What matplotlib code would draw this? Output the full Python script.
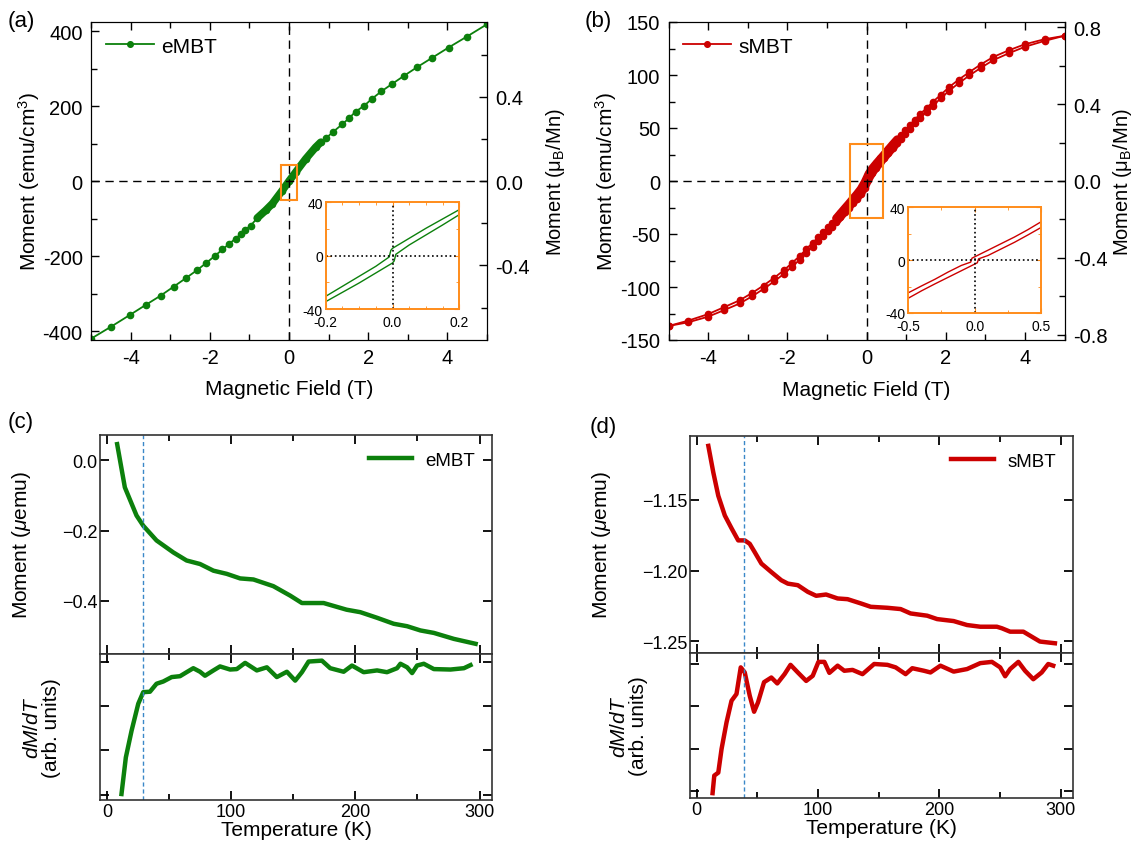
import numpy as np
import matplotlib
matplotlib.use('Agg')
import matplotlib.pyplot as plt
from matplotlib.ticker import MultipleLocator, FuncFormatter, NullFormatter
from matplotlib.patches import Rectangle

plt.rcParams['font.family'] = ['Liberation Sans', 'DejaVu Sans']
plt.rcParams['mathtext.fontset'] = 'custom'
plt.rcParams['mathtext.rm'] = 'Liberation Sans'
plt.rcParams['mathtext.it'] = 'Liberation Sans:italic'
plt.rcParams['mathtext.bf'] = 'Liberation Sans:bold'
plt.rcParams['axes.unicode_minus'] = True

# ---- (a) eMBT  M-H loop
a_field = [-5.0, -4.49, -4.02, -3.62, -3.24, -2.91, -2.61, -2.32, -2.09, -1.88,
           -1.68, -1.52, -1.35, -1.2, -1.1, -0.97, -0.8, -0.59, -0.42, -0.17,
           0.0, 0.17, 0.42, 0.67, 0.8, 0.93, 1.1, 1.35, 1.52, 1.68,
           1.9, 2.09, 2.33, 2.59, 2.91, 3.24, 3.62, 4.03, 4.49, 5.0]
a_moment = [-420, -387.6, -356.7, -330, -305, -281, -259, -237, -218, -200,
            -182, -168, -153, -140, -129, -119, -98, -78, -60, -25,
            0, 24, 59, 90, 103.5, 114, 130, 152, 168, 185,
            201, 219, 239, 258, 281, 304, 329, 356, 385, 418]
# inset (a): two branches
a_in_field_dn = [0.2, 0.15, 0.1, 0.05, 0.0, -0.005, -0.01, -0.05, -0.1, -0.15, -0.2]
a_in_mom_dn = [34.5, 27.5, 20.5, 13, 5.5, 4, -1, -8, -15.5, -23, -30.5]
a_in_field_up = [-0.2, -0.15, -0.1, -0.05, 0.0, 0.005, 0.01, 0.05, 0.1, 0.15, 0.2]
a_in_mom_up = [-34.5, -27.5, -20.5, -13, -5.5, -4, 1, 8, 15.5, 23, 30.75]

# ---- (b) sMBT  M-H loop
b_field = [-5.0, -4.5, -4.0, -3.6, -3.2, -2.88, -2.6, -2.33, -2.09, -1.88,
           -1.68, -1.52, -1.36, -1.22, -1.09, -0.98, -0.87, -0.77, -0.66, -0.55,
           -0.45, -0.35, -0.25, -0.15, -0.05, 0.05, 0.15, 0.25, 0.35, 0.45,
           0.55, 0.66, 0.77, 0.87, 0.98, 1.09, 1.22, 1.36, 1.52, 1.68,
           1.88, 2.09, 2.33, 2.6, 2.88, 3.2, 3.6, 4.0, 4.5, 5.0]
b_mom_dn = [-136.8, -131.7, -125.6, -119.1, -112.5, -105.4, -98.6, -91.3, -84.3, -77.3,
            -70.5, -64.2, -58.2, -53.2, -48.0, -43.6, -39.4, -35.1, -30.3, -25.5,
            -21.2, -16.7, -12.3, -7.5, -1.0, 7.0, 12.5, 17.0, 21.3, 25.6,
            30.0, 34.8, 39.4, 43.7, 48.1, 52.8, 58.0, 63.3, 69.0, 74.8,
            81.5, 88.7, 95.7, 102.8, 109.8, 117.0, 123.4, 129.0, 133.8, 137.0]
b_mom_up = [-136.8, -133.3, -128.0, -121.9, -115.5, -108.6, -101.8, -94.7, -87.7, -80.7,
            -74.1, -67.8, -61.8, -56.8, -51.6, -47.4, -43.2, -38.9, -34.3, -29.5,
            -25.2, -20.9, -16.7, -12.5, -7.0, 1.0, 7.5, 12.6, 17.1, 21.6,
            26.0, 30.8, 35.6, 39.9, 44.3, 49.2, 54.4, 59.7, 65.4, 71.2,
            78.1, 85.3, 92.3, 99.6, 106.6, 114.0, 120.6, 126.6, 132.2, 137.0]
b_in_field_dn = [0.5, 0.4, 0.3, 0.2, 0.1, 0.0, -0.02, -0.03, -0.1, -0.2, -0.3, -0.4, -0.5]
b_in_mom_dn = [29, 23, 17.5, 12.5, 7.5, 2.5, 1.5, -1.5, -4, -9, -14.5, -19.5, -24.7]
b_in_field_up = [-0.5, -0.4, -0.3, -0.2, -0.1, 0.0, 0.02, 0.03, 0.1, 0.2, 0.3, 0.4, 0.5]
b_in_mom_up = [-28.8, -23.2, -18, -13, -8, -3, -2, 1, 3.5, 8.5, 13.5, 19, 24.7]

# ---- (c) eMBT  M-T
c_temp = [8.3, 14.5, 23.9, 29.3, 40, 53.5, 64.2, 75, 85.8, 96.5, 107.3, 118, 134,
          147.6, 157, 174.5, 193, 204, 217.5, 230.9, 241.7, 252.4, 263.2, 279.3, 296.8]
c_moment = [0.046, -0.077, -0.157, -0.186, -0.228, -0.262, -0.285, -0.295, -0.314,
            -0.323, -0.336, -0.339, -0.358, -0.385, -0.406, -0.406, -0.425, -0.432,
            -0.448, -0.465, -0.472, -0.484, -0.491, -0.508, -0.522]
c_temp_d = [11.8, 15.3, 19.9, 25.3, 29.3, 34.7, 40, 45.4, 52.2, 58.9, 64.2, 69.6, 75,
            79, 85.8, 91.1, 99.2, 104.6, 111.3, 120.7, 128.8, 136.8, 144.9, 151.6, 157,
            162.4, 173.1, 179.8, 190.6, 197.3, 206.7, 217.5, 225.5, 233.6, 236.3, 241.7,
            245.7, 249.7, 255.1, 263.2, 276.6, 287.4, 292.7]
c_deriv = [0.015, 0.84, 1.44, 2.05, 2.31, 2.32, 2.50, 2.55, 2.65, 2.67, 2.76, 2.85, 2.77,
           2.68, 2.80, 2.89, 2.82, 2.83, 2.97, 2.80, 2.87, 2.65, 2.77, 2.57, 2.76,
           3.0, 3.02, 2.85, 2.77, 2.91, 2.76, 2.80, 2.76, 2.85, 2.95, 2.87,
           2.74, 2.91, 2.95, 2.83, 2.82, 2.85, 2.92]
c_tc = 29

# ---- (d) sMBT  M-T
d_temp = [9.6, 13.7, 17.8, 23.2, 28.7, 34.2, 39.6, 43.7, 47.8, 53.3, 61.5, 69.7, 75.1,
          83.3, 91.5, 98.4, 106.6, 116.1, 124.3, 135.2, 143.4, 157.1, 168, 176.2, 189.9,
          198.1, 211.7, 222.7, 233.6, 247.3, 251.4, 258.2, 269.1, 277.3, 282.8, 295.1]
d_moment = [-1.1117, -1.1305, -1.147, -1.161, -1.170, -1.1786, -1.1786, -1.181, -1.1869,
            -1.195, -1.201, -1.2068, -1.2092, -1.2103, -1.215, -1.2178, -1.2169, -1.2197,
            -1.2202, -1.2232, -1.2256, -1.2263, -1.2272, -1.2303, -1.2319, -1.2343,
            -1.2357, -1.2385, -1.2397, -1.2397, -1.2408, -1.2432, -1.2432, -1.2474,
            -1.2502, -1.2514]
d_temp_d = [13.1, 14.5, 17.8, 20.5, 24.6, 28.7, 32.8, 36.3, 39.6, 43.7, 47.3, 50.5, 55.5,
            61.5, 66.4, 72.4, 77.3, 83.3, 90.2, 95.6, 100.3, 105.2, 109.3, 116.1, 121.6,
            128.4, 136.6, 146.2, 157.1, 163.9, 172.1, 177.6, 187.2, 192.6, 200.8, 211.7,
            222.7, 233.6, 243.2, 250, 254.1, 258.2, 265, 270.5, 277.3, 284.2, 289.6, 293.7]
d_deriv = [-0.055, 0.36, 0.43, 0.99, 1.62, 2.13, 2.29, 2.92, 2.80, 2.25, 1.87, 2.09, 2.57,
           2.68, 2.54, 2.76, 2.98, 2.80, 2.60, 2.72, 3.05, 3.05, 2.79, 2.96, 2.84,
           2.86, 2.76, 3.0, 2.98, 2.92, 2.76, 2.90, 2.84, 2.80, 2.96, 2.82,
           2.88, 3.02, 3.05, 2.92, 2.71, 2.88, 3.05, 2.84, 2.64, 2.80, 3.0, 2.96]
d_tc = 39

# unit conversion emu/cm3 -> muB/Mn
a_conv = 562.0
b_conv = 181.4

green = '#0c800c'
red = '#cc0000'
orange = '#ff8c1a'
blue = '#3a88c8'

W, H = 1135, 845
fig = plt.figure(figsize=(W / 100, H / 100), dpi=100)


def px_axes(l, t, r, b, **kw):
    return fig.add_axes([l / W, 1 - b / H, (r - l) / W, (b - t) / H], **kw)


hyph = FuncFormatter(lambda v, p: f'{v:g}')
hyph1 = FuncFormatter(lambda v, p: f'{v:.1f}')


def mh_panel(box, field, branches, color, label, ylim, ymaj, ymin, conv, rmaj,
             rect, inbox, in_branches, in_xlim, in_xmaj, in_xmin, in_xfmt):
    ax = px_axes(*box)
    for i, (f, m) in enumerate(branches):
        f = np.array(f)
        m = np.array(m)
        ax.plot(f, m, '-o', color=color, ms=4.5, lw=1.3, label=label if i == 0 else None)
        band = np.abs(f) <= 0.85
        ax.plot(f[band], m[band], '-', color=color, lw=5.5, solid_capstyle='round')
    ax.axhline(0, color='k', ls=(0, (6, 4)), lw=1)
    ax.axvline(0, color='k', ls=(0, (6, 4)), lw=1)
    ax.add_patch(Rectangle((rect[0], rect[1]), rect[2], rect[3], fill=False,
                           ec=orange, lw=1.5, zorder=5))
    ax.set_xlim(-5, 5)
    ax.set_ylim(*ylim)
    ax.xaxis.set_major_locator(MultipleLocator(2))
    ax.xaxis.set_minor_locator(MultipleLocator(1))
    ax.yaxis.set_major_locator(MultipleLocator(ymaj))
    ax.yaxis.set_minor_locator(MultipleLocator(ymin))
    ax.xaxis.set_major_formatter(hyph)
    ax.yaxis.set_major_formatter(hyph)
    ax.tick_params(which='both', direction='in', top=True, right=False,
                   labelsize=14.5, width=1)
    ax.tick_params(which='major', length=6, pad=6)
    ax.tick_params(which='minor', length=4)
    ax.set_xlabel('Magnetic Field (T)', fontsize=15)
    ax.xaxis.set_label_coords(0.5, -0.125)
    ax.set_ylabel('Moment (emu/cm$^3$)', fontsize=15)
    ax.legend(loc='upper left', frameon=False, fontsize=15, handlelength=2.3,
              handletextpad=0.35, borderaxespad=0.3, markerscale=0.9)

    ax2 = ax.twinx()
    ax2.set_ylim(ylim[0] / conv, ylim[1] / conv)
    ax2.yaxis.set_major_locator(MultipleLocator(rmaj))
    ax2.yaxis.set_minor_locator(MultipleLocator(rmaj / 2))
    ax2.yaxis.set_major_formatter(hyph1)
    ax2.tick_params(which='both', direction='in', labelsize=14.5, width=1)
    ax2.tick_params(which='major', length=6, pad=6)
    ax2.tick_params(which='minor', length=4)
    ax2.set_ylabel('Moment (μ$_\\mathrm{B}$/Mn)', fontsize=14.5)

    ins = px_axes(*inbox)
    for f, m in in_branches:
        ins.plot(f, m, '-', color=color, lw=1)
    ins.axhline(0, color='k', ls=':', lw=1.2)
    ins.axvline(0, color='k', ls=':', lw=1.2)
    ins.set_xlim(*in_xlim)
    ins.set_ylim(-40, 40)
    ins.xaxis.set_major_locator(MultipleLocator(in_xmaj))
    ins.xaxis.set_minor_locator(MultipleLocator(in_xmin))
    ins.yaxis.set_major_locator(MultipleLocator(40))
    ins.yaxis.set_minor_locator(MultipleLocator(20))
    ins.xaxis.set_major_formatter(in_xfmt)
    ins.yaxis.set_major_formatter(hyph)
    ins.tick_params(which='both', direction='in', top=True, right=True,
                    color=orange, labelsize=10)
    ins.tick_params(axis='x', pad=4)
    ins.tick_params(axis='y', pad=2)
    ins.tick_params(which='major', length=3.5)
    ins.tick_params(which='minor', length=2.5)
    for s in ins.spines.values():
        s.set_color(orange)
        s.set_linewidth(1.4)
    return ax, ax2


axa, axa2 = mh_panel((91, 23, 487, 340.5), a_field, [(a_field, a_moment)], green, 'eMBT',
                     (-422, 424), 200, 100, a_conv, 0.4, (-0.2, -50, 0.4, 94),
                     (325.7, 203.3, 459.3, 310),
                     [(a_in_field_dn, a_in_mom_dn), (a_in_field_up, a_in_mom_up)],
                     (-0.2, 0.2), 0.2, 0.05, hyph1)
axa.yaxis.set_label_coords(-0.125, 0.5)
axa2.yaxis.set_label_coords(1.145, 0.5)

axb, axb2 = mh_panel((668.5, 23, 1064.5, 341), b_field,
                     [(b_field, b_mom_dn), (b_field, b_mom_up)], red, 'sMBT',
                     (-150, 150), 50, 25, b_conv, 0.4, (-0.42, -34.5, 0.84, 69),
                     (908.3, 208.3, 1041, 314),
                     [(b_in_field_dn, b_in_mom_dn), (b_in_field_up, b_in_mom_up)],
                     (-0.5, 0.5), 0.5, 0.25, hyph1)
axb.yaxis.set_label_coords(-0.125, 0.5)
axb2.yaxis.set_label_coords(1.118, 0.5)


def mt_panel(top_box, bot_box, temp, mom, temp_d, deriv, color, label, tc,
             ylim, ymaj, ylim_d, lab_x, lab_x_d):
    ax1 = px_axes(*top_box)
    ax2 = px_axes(*bot_box, sharex=ax1)
    ax1.plot(temp, mom, color=color, lw=3.2, label=label)
    ax2.plot(temp_d, deriv, color=color, lw=3.2)
    for ax in (ax1, ax2):
        ax.axvline(tc, color=blue, ls=(0, (3, 2)), lw=1)
        ax.tick_params(which='both', direction='in', top=True, right=True,
                       labelsize=13, width=1.3, pad=2)
        ax.tick_params(which='major', length=6.5)
        ax.tick_params(which='minor', length=4.5)
        for s in ax.spines.values():
            s.set_color('#333333')
            s.set_linewidth(1.2)
    ax1.set_xlim(-5.5, 310)
    ax1.xaxis.set_major_locator(MultipleLocator(100))
    ax1.xaxis.set_minor_locator(MultipleLocator(50))
    ax1.set_ylim(*ylim)
    ax1.yaxis.set_major_locator(MultipleLocator(ymaj))
    ax1.tick_params(axis='x', labelbottom=False)
    ax2.set_ylim(*ylim_d)
    ax2.yaxis.set_major_locator(MultipleLocator(1))
    ax2.yaxis.set_major_formatter(NullFormatter())
    ax1.set_ylabel('Moment ($\\mu$emu)', fontsize=15)
    ax1.yaxis.set_label_coords(lab_x, 0.5)
    ax2.set_ylabel('$dM/dT$\n(arb. units)', fontsize=15, linespacing=1.0)
    ax2.yaxis.set_label_coords(lab_x_d, 0.5)
    ax2.set_xlabel('Temperature (K)', fontsize=15, labelpad=0)
    ax1.legend(loc='upper right', frameon=False, fontsize=13.5, handlelength=2.3,
               handletextpad=0.7)
    return ax1, ax2


mt_panel((100, 436, 492, 655), (100, 655, 492, 801), c_temp, c_moment, c_temp_d, c_deriv,
         green, 'eMBT', c_tc, (-0.551, 0.072), 0.2, (-0.12, 3.17), -0.17, -0.10)
mt_panel((690, 437, 1073, 654), (690, 654, 1073, 799), d_temp, d_moment, d_temp_d, d_deriv,
         red, 'sMBT', d_tc, (-1.2583, -1.1047), 0.05, (-0.17, 3.26), -0.20, -0.11)

for txt, x, y in [('(a)', 8, 22), ('(b)', 585, 22), ('(c)', 8, 423), ('(d)', 590, 428)]:
    fig.text(x / W, 1 - y / H, txt, fontsize=16, va='center', ha='left')

fig.savefig('out.png', dpi=100)
